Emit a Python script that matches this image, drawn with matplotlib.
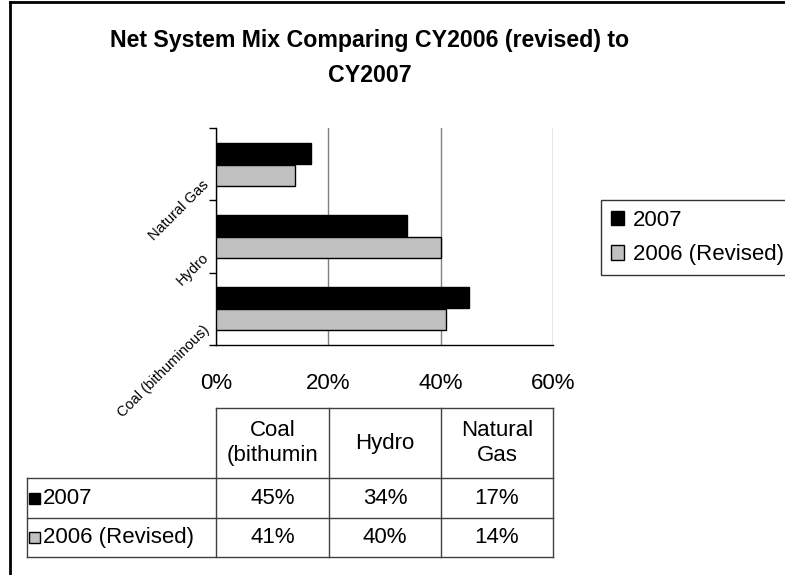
import matplotlib
matplotlib.use('Agg')
import matplotlib.pyplot as plt
import matplotlib.transforms as mtransforms
import numpy as np

plt.rcParams['font.family'] = ['Liberation Sans', 'DejaVu Sans']

# data
categories = ['Coal (bithuminous)', 'Hydro', 'Natural Gas']
table_headers = ['Coal\n(bithumin', 'Hydro', 'Natural\nGas']
series_names = ['2007', '2006 (Revised)']
values_2007 = [45, 34, 17]
values_2006 = [41, 40, 14]
x_ticks = [0, 20, 40, 60]
x_tick_labels = ['0%', '20%', '40%', '60%']

colors = ['black', '#c0c0c0']

W, H = 785, 575
fig = plt.figure(figsize=(W / 100, H / 100), dpi=100)
fig.patch.set_facecolor('white')

# plot area in pixel coords
left, right, top, bottom = 216, 553, 128, 345
ax = fig.add_axes([left / W, 1 - bottom / H, (right - left) / W, (bottom - top) / H])

y = np.arange(len(categories))
bh = 0.29
bars_a = ax.barh(y + 0.15, values_2007, height=bh, color=colors[0], edgecolor='black', linewidth=1, label=series_names[0], zorder=3)
bars_b = ax.barh(y - 0.15, values_2006, height=bh, color=colors[1], edgecolor='black', linewidth=1, label=series_names[1], zorder=3)

ax.set_xlim(0, 60)
ax.set_ylim(-0.5, len(categories) - 0.5)
ax.set_xticks(x_ticks)
ax.set_xticklabels(x_tick_labels, fontsize=16)
ax.tick_params(axis='x', length=0, pad=20)
ax.grid(axis='x', color='#808080', linewidth=1, zorder=0)

ax.set_yticks([])
ax.set_yticks(np.arange(-0.5, len(categories)), minor=True)
ax.tick_params(axis='y', which='minor', length=5, width=1, direction='out')
ax.tick_params(axis='y', which='minor', labelleft=False)
for s in ['top', 'right']:
    ax.spines[s].set_visible(False)
ax.spines['left'].set_linewidth(1)
ax.spines['bottom'].set_linewidth(1)

# rotated category labels
off = mtransforms.ScaledTranslation(-14 / 100, -14 / 100, fig.dpi_scale_trans)
for yi, name in zip(y, categories):
    ax.text(0, yi, name, transform=ax.get_yaxis_transform() + off, rotation=45,
            rotation_mode='anchor', ha='right', va='top', fontsize=10.5)

# legend
leg = fig.legend(handles=[bars_a, bars_b], labels=series_names, loc='upper left',
                 bbox_to_anchor=(601 / W, 1 - 200 / H), fontsize=16, frameon=True,
                 fancybox=False, edgecolor='black', handlelength=0.6, handleheight=0.6,
                 handletextpad=0.4, borderpad=0.45, labelspacing=0.6, borderaxespad=0)
leg.get_frame().set_linewidth(1)

# overlay in pixel coords for title, table and frame
ov = fig.add_axes([0, 0, 1, 1], zorder=-1)
ov.set_xlim(0, W)
ov.set_ylim(H, 0)
ov.axis('off')

ov.text(370, 47, 'Net System Mix Comparing CY2006 (revised) to', ha='center', va='baseline',
        fontsize=16.7, fontweight='bold')
ov.text(370, 82, 'CY2007', ha='center', va='baseline', fontsize=16.7, fontweight='bold')

# outer chart frame (only top and left are inside the crop)
ov.plot([10, W], [2, 2], color='black', linewidth=2)
ov.plot([10, 10], [2, H], color='black', linewidth=2)

# data table
col_x = [27, 216, 329, 441, 553]
row_y = [408, 478, 518, 557]
lc = '#404040'
ov.plot([col_x[1], col_x[-1]], [row_y[0], row_y[0]], color=lc, linewidth=1)
for ry in row_y[1:]:
    ov.plot([col_x[0], col_x[-1]], [ry, ry], color=lc, linewidth=1)
ov.plot([col_x[0], col_x[0]], [row_y[1], row_y[-1]], color=lc, linewidth=1)
for cx in col_x[1:]:
    ov.plot([cx, cx], [row_y[0], row_y[-1]], color=lc, linewidth=1)

for j, head in enumerate(table_headers):
    cx = (col_x[j + 1] + col_x[j + 2]) / 2
    ov.text(cx, (row_y[0] + row_y[1]) / 2, head, ha='center', va='center', fontsize=16,
            linespacing=1.2)

for i, (name, vals) in enumerate(zip(series_names, [values_2007, values_2006])):
    cy = (row_y[i + 1] + row_y[i + 2]) / 2
    ov.add_patch(plt.Rectangle((29, cy - 5.5), 11, 11, facecolor=colors[i], edgecolor='black', linewidth=1))
    ov.text(43, cy, name, ha='left', va='center', fontsize=16)
    for j, v in enumerate(vals):
        cx = (col_x[j + 1] + col_x[j + 2]) / 2
        ov.text(cx, cy, f'{v}%', ha='center', va='center', fontsize=16)

fig.savefig('out.png', dpi=100)
